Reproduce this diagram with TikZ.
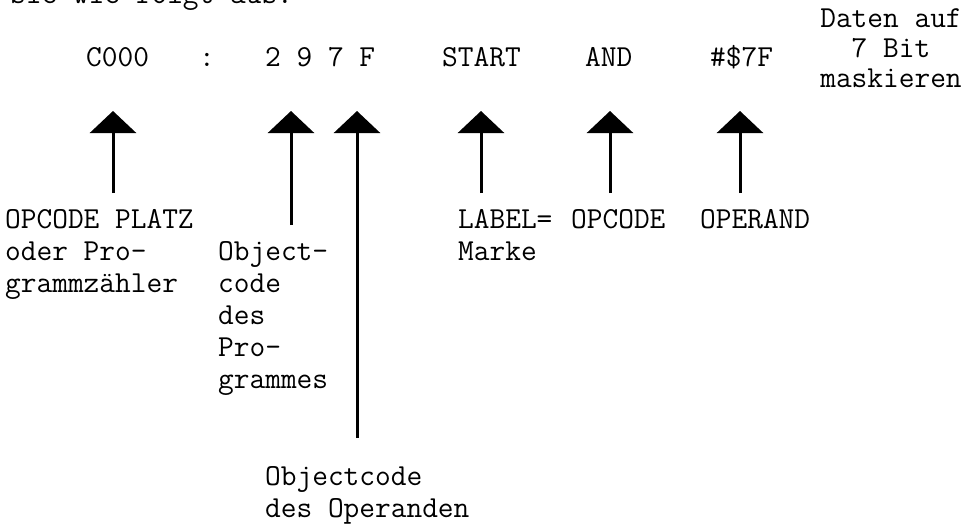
\documentclass[tikz,border=0pt]{standalone}
\usetikzlibrary{arrows.meta}
\begin{document}
\begin{tikzpicture}[x=1pt,y=-1pt,
  txt/.style={font=\fontsize{30.5}{32}\selectfont\ttfamily, inner sep=0pt, anchor=base west, align=left},
  ctxt/.style={font=\fontsize{30.5}{30}\selectfont\ttfamily, inner sep=0pt, anchor=base, align=center},
  up/.style={line width=3pt, -{Triangle[width=46pt,length=22pt]}}]
\useasboundingbox (0,0) rectangle (975,525);
\clip (0,0) rectangle (975,525);
% cut-off line of running text
\node[txt] (intro) at (10,3) {sie wie folgt aus:};
% code line (anchor base = baseline of the last line)
\node[txt] (adr)   at (86,66)  {C000};
\node[txt] (colon) at (199,66) {:};
\node[txt] (obj)   at (265,66) {2 9 7 F};
\node[txt] (lbl)   at (442,66) {START};
\node[txt] (opc)   at (585,66) {AND};
\node[txt] (opd)   at (710,66) {\#\$7F};
\node[ctxt] (cmt)  at (891,87) {Daten auf\\7 Bit\\maskieren};
% labels
\node[txt] (l1) at (5,292)   {OPCODE PLATZ\\oder Pro-\\grammzähler};
\node[txt] (l2) at (218,388) {Object-\\code\\des\\Pro-\\grammes};
\node[txt] (l3) at (265,517) {Objectcode\\des Operanden};
\node[txt] (l4) at (458,260) {LABEL=\\Marke};
\node[txt] (l5) at (571,228) {OPCODE};
\node[txt] (l6) at (700,228) {OPERAND};
% arrow coordinates
\coordinate (t1) at (113,111); \coordinate (b1) at (113,193);
\coordinate (t2) at (291,111); \coordinate (b2) at (291,225);
\coordinate (t3) at (357,111); \coordinate (b3) at (357,438);
\coordinate (t4) at (481,111); \coordinate (b4) at (481,193);
\coordinate (t5) at (610,111); \coordinate (b5) at (610,193);
\coordinate (t6) at (740,111); \coordinate (b6) at (740,193);
\foreach \i in {1,...,6} \draw[up] (b\i) -- (t\i);
\end{tikzpicture}
\end{document}
